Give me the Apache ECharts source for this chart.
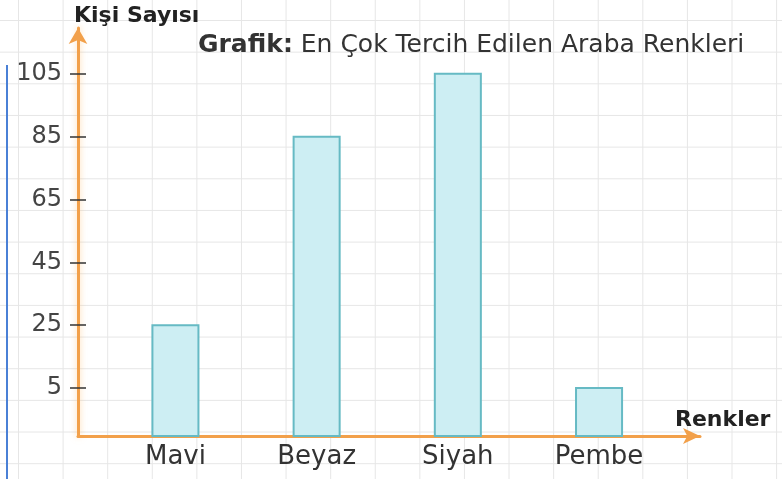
<!DOCTYPE html>
<html>
<head>
<meta charset="utf-8">
<script src="https://cdn.jsdelivr.net/npm/echarts@6/dist/echarts.min.js"></script>
<style>
  html, body { margin: 0; padding: 0; background: #fff; }
  #main {
    width: 782px;
    height: 479px;
    /* grid paper behind the chart */
    background-color: #fff;
    background-image:
      linear-gradient(to right, #e6e6e6 1px, transparent 1px),
      linear-gradient(to bottom, #e6e6e6 1px, transparent 1px);
    background-size: 44.6px 31.67px;
    background-position: 18px 20px;
  }
</style>
</head>
<body>
<div id="main"></div>
<script>
  const categories = ["Mavi", "Beyaz", "Siyah", "Pembe"];
  const values = [25, 85, 105, 5];
  const yTicks = [5, 25, 45, 65, 85, 105];

  const Y_MIN = -10.3;
  const Y_MAX = 119.6;
  const BAR_W = 0.326;
  const FONT = "DejaVu Sans";
  const axisColor = "#f2a04a";

  let myChart = echarts.init(document.getElementById("main"));

  myChart.setOption({
    animation: false,
    title: [
      {
        text: "Kişi Sayısı",
        left: 69,
        top: 0,
        textStyle: { fontFamily: FONT, fontSize: 22, fontWeight: 600, color: "#222" }
      },
      {
        text: "{b|Grafik:} En Çok Tercih Edilen Araba Renkleri",
        left: 193,
        top: 28,
        textStyle: {
          fontFamily: FONT, fontSize: 25, fontWeight: "normal", color: "#333",
          rich: {
            b: { fontFamily: FONT, fontSize: 25, fontWeight: "bold", color: "#333" }
          }
        }
      },
      {
        text: "Renkler",
        left: 670,
        top: 404,
        textStyle: { fontFamily: FONT, fontSize: 22, fontWeight: 600, color: "#222" }
      }
    ],
    graphic: [
      {
        type: "line",
        shape: { x1: 7, y1: 65, x2: 7, y2: 479 },
        style: { stroke: "#4a80d6", lineWidth: 2 }
      }
    ],
    grid: { left: 78, right: 82, top: 28, bottom: 43 },
    xAxis: {
      type: "value",
      min: -0.69,
      max: 3.715,
      splitLine: { show: false },
      axisTick: { show: false },
      axisLine: {
        onZero: false,
        symbol: ["none", "arrow"],
        symbolSize: [12, 17],
        lineStyle: { color: axisColor, width: 3 }
      },
      axisLabel: {
        customValues: [0, 1, 2, 3],
        formatter: function (v) { return categories[v]; },
        margin: 8,
        fontFamily: FONT,
        fontSize: 26,
        color: "#333"
      }
    },
    yAxis: [
      {
        type: "value",
        min: Y_MIN,
        max: Y_MAX,
        splitLine: { show: false },
        axisLine: {
          onZero: false,
          symbol: ["none", "arrow"],
          symbolSize: [14, 16],
          lineStyle: {
            color: axisColor, width: 3,
            shadowColor: "rgba(255,190,110,0.6)", shadowBlur: 6
          }
        },
        axisTick: { show: false },
        axisLabel: {
          customValues: yTicks,
          margin: 16,
          fontFamily: FONT,
          fontSize: 24,
          color: "#444"
        }
      },
      {
        // tick marks crossing the axis: shifted 8px right, 16px long
        type: "value",
        min: Y_MIN,
        max: Y_MAX,
        position: "left",
        offset: -8,
        splitLine: { show: false },
        axisLine: { show: false, onZero: false },
        axisLabel: { show: false },
        axisTick: {
          customValues: yTicks,
          length: 16,
          lineStyle: { color: "#333", width: 1.5 }
        }
      }
    ],
    series: [
      {
        type: "custom",
        data: values.map(function (v, i) { return [i, v]; }),
        renderItem: function (params, api) {
          const x = api.value(0);
          const top = api.coord([x, api.value(1)]);
          const base = api.coord([x, Y_MIN]);
          const w = api.size([BAR_W, 0])[0];
          return {
            type: "rect",
            shape: { x: top[0] - w / 2, y: top[1], width: w, height: base[1] - top[1] },
            style: { fill: "#cdeef3", stroke: "#66bac4", lineWidth: 2 }
          };
        }
      }
    ]
  });
</script>
</body>
</html>
